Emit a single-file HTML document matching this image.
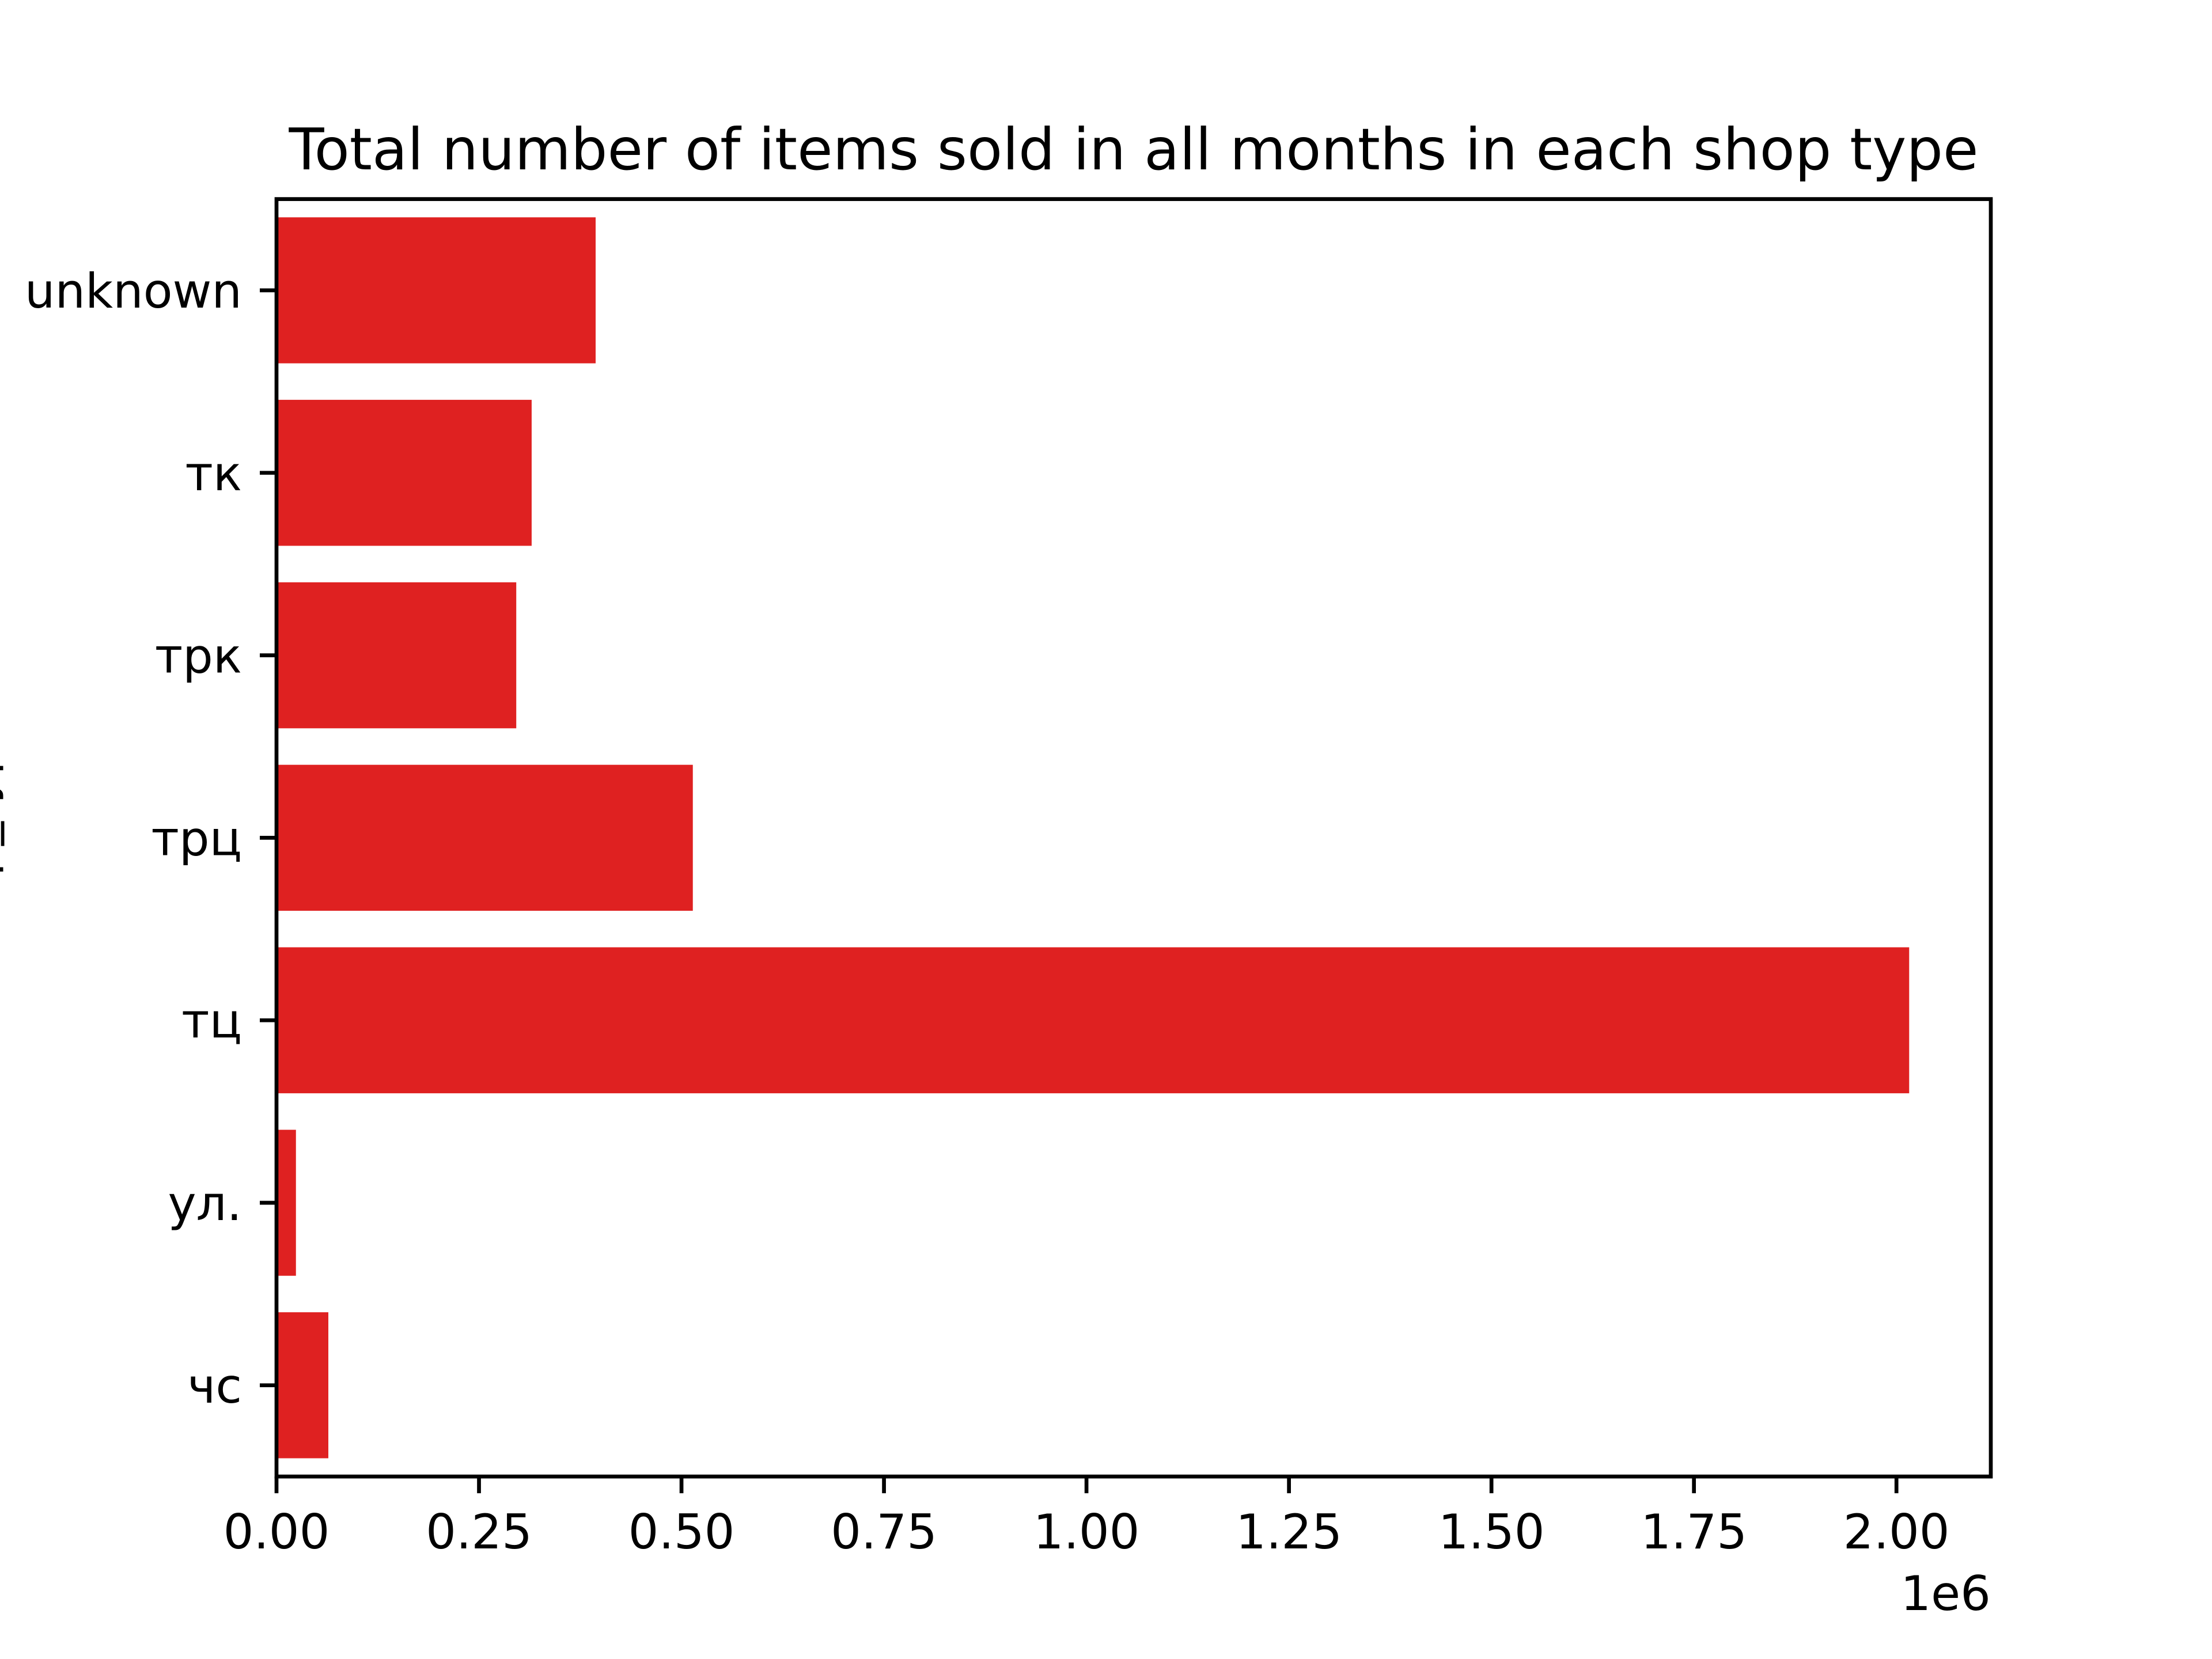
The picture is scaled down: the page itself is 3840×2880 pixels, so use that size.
<!DOCTYPE html>
<html><head><meta charset="utf-8"><style>
html,body{margin:0;padding:0;background:#fff;width:3840px;height:2880px;overflow:hidden}
svg{display:block;font-family:"DejaVu Sans","Liberation Sans",sans-serif}
</style></head><body>
<svg id="chart" width="3840" height="2880" viewBox="0 0 3840 2880" xmlns="http://www.w3.org/2000/svg">
<rect width="3840" height="2880" fill="#fff"/>
<text x="1968" y="294" font-size="100" text-anchor="middle" fill="#000">Total number of items sold in all months in each shop type</text>
<text transform="translate(-12,1454) rotate(-90)" font-size="83" text-anchor="middle" fill="#000">shop_type</text>
<g id="bars"></g>
<g id="xticks"></g>
<g id="yticks"></g>
<rect x="480" y="345.6" width="2976" height="2217.6" fill="none" stroke="#000" stroke-width="6.7"/>
<text x="3456" y="2795" font-size="83" text-anchor="end" fill="#000">1e6</text>
</svg>
<script>
const categories = ["unknown","тк","трк","трц","тц","ул.","чс"];
const values = [394000,315000,296000,514000,2015700,24000,64000];
const xTickValues = [0,250000,500000,750000,1000000,1250000,1500000,1750000,2000000];
const xTickLabels = ["0.00","0.25","0.50","0.75","1.00","1.25","1.50","1.75","2.00"];

const L=480,R=3456,T=345.6,B=2563.2;
const xMax=Math.max(...values)*1.05;
const xs=v=>L+(v/xMax)*(R-L);
const bandH=(B-T)/categories.length;
const ys=i=>T+(i+0.5)*bandH;
const NS="http://www.w3.org/2000/svg";
const bars=document.getElementById('bars');
const xt=document.getElementById('xticks');
const yt=document.getElementById('yticks');
values.forEach((v,i)=>{
  const r=document.createElementNS(NS,'rect');
  r.setAttribute('x',xs(0));
  r.setAttribute('y',ys(i)-bandH*0.4);
  r.setAttribute('width',xs(v)-xs(0));
  r.setAttribute('height',bandH*0.8);
  r.setAttribute('fill','#df2121');
  
  
  bars.appendChild(r);
});
categories.forEach((c,i)=>{
  const y=ys(i);
  const l=document.createElementNS(NS,'line');
  l.setAttribute('x1',L-29);l.setAttribute('x2',L);l.setAttribute('y1',y);l.setAttribute('y2',y);
  l.setAttribute('stroke','#000');l.setAttribute('stroke-width','6.7');
  
  
  yt.appendChild(l);
  const t=document.createElementNS(NS,'text');
  t.setAttribute('x',L-60);t.setAttribute('y',y+30);
  t.setAttribute('font-size','83');t.setAttribute('text-anchor','end');
  t.textContent=c;
  
  
  yt.appendChild(t);
});
xTickValues.forEach((v,i)=>{
  const x=xs(v);
  const l=document.createElementNS(NS,'line');
  l.setAttribute('x1',x);l.setAttribute('x2',x);l.setAttribute('y1',B);l.setAttribute('y2',B+29);
  l.setAttribute('stroke','#000');l.setAttribute('stroke-width','6.7');
  
  
  xt.appendChild(l);
  const t=document.createElementNS(NS,'text');
  t.setAttribute('x',x);t.setAttribute('y',B+125);
  t.setAttribute('font-size','83');t.setAttribute('text-anchor','middle');
  t.textContent=xTickLabels[i];
  
  
  xt.appendChild(t);
});
</script>
</body></html>
